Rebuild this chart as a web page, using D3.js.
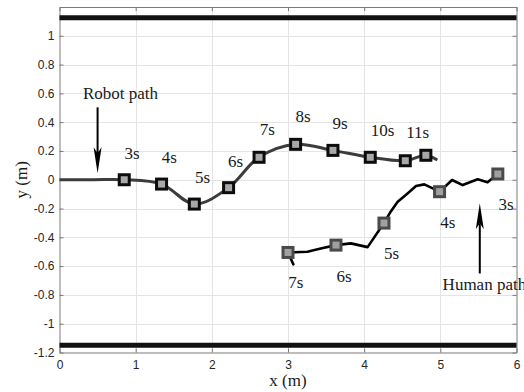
<!DOCTYPE html>
<html>
<head>
<meta charset="utf-8">
<script src="https://cdn.jsdelivr.net/npm/d3@7"></script>
<style>
  html, body { margin: 0; padding: 0; background: #fff; }
  svg { display: block; }
</style>
</head>
<body>
<svg id="chart" width="524" height="392"></svg>
<script>
// ---- data ----
const xTicks = [0, 1, 2, 3, 4, 5, 6];
const yTicks = [-1.2, -1, -0.8, -0.6, -0.4, -0.2, 0, 0.2, 0.4, 0.6, 0.8, 1];

// corridor walls
const wallY = [1.125, -1.15];

// robot trajectory (smooth)
const robotPathX = [0, 0.45, 0.85, 1.34, 1.77, 2.22, 2.62, 3.10, 3.59, 4.08, 4.54, 4.81, 4.96];
const robotPathY = [0, 0, 0, -0.03, -0.169, -0.055, 0.156, 0.246, 0.204, 0.156, 0.132, 0.17, 0.137];
const robotMarkX = [0.85, 1.34, 1.77, 2.22, 2.62, 3.10, 3.59, 4.08, 4.54, 4.81];
const robotMarkY = [0, -0.03, -0.169, -0.055, 0.156, 0.246, 0.204, 0.156, 0.132, 0.17];
const robotLabels = ["3s", "4s", "5s", "6s", "7s", "8s", "9s", "10s", "11s"];
const robotLabelX = [0.953, 1.443, 1.878, 2.312, 2.729, 3.197, 3.684, 4.242, 4.703];
const robotLabelY = [0.188, 0.160, 0.021, 0.132, 0.350, 0.442, 0.396, 0.346, 0.328];

// human trajectory (measured, jagged)
const humanPathX = [3.07, 3.0, 3.255, 3.43, 3.63, 3.825, 4.045, 4.26, 4.35, 4.44, 4.57, 4.68, 4.79, 4.99, 5.154, 5.294, 5.49, 5.62, 5.755];
const humanPathY = [-0.588, -0.505, -0.50, -0.477, -0.454, -0.442, -0.468, -0.301, -0.22, -0.153, -0.095, -0.044, -0.032, -0.083, -0.002, -0.037, 0.003, -0.018, 0.04];
const humanMarkX = [3.0, 3.63, 4.26, 4.99, 5.755];
const humanMarkY = [-0.505, -0.454, -0.301, -0.083, 0.04];
const humanLabels = ["7s", "6s", "5s", "4s", "3s"];
const humanLabelX = [3.101, 3.737, 4.361, 5.097, 5.864];
const humanLabelY = [-0.709, -0.668, -0.512, -0.292, -0.171];

// annotations: text and arrows [x, yFrom, yTo]
const noteText = ["Robot path", "Human path"];
const noteX = [0.80, 5.03];
const noteY = [0.561, -0.767];
const noteAnchor = ["middle", "start"];
const arrowX = [0.5, 5.518];
const arrowFrom = [0.503, -0.651];
const arrowTo = [0.045, -0.164];

// ---- layout ----
const svg = d3.select("#chart");
const pL = 59.5, pR = 516.5, pT = 7, pB = 352.5;
const x = d3.scaleLinear().domain([0, 6]).range([pL, pR]);
const y = d3.scaleLinear().domain([-1.2, 1.2]).range([pB, pT]);

const serif = "'Liberation Serif', 'Times New Roman', serif";
const sans = "'Liberation Sans', Arial, Helvetica, sans-serif";
const fs = 17;

// grid
const grid = svg.append("g").attr("stroke", "#e4e4e4").attr("stroke-width", 1);
grid.selectAll(".gx").data(xTicks.slice(1, -1)).join("line")
  .attr("x1", d => Math.round(x(d)) + 0.5).attr("x2", d => Math.round(x(d)) + 0.5)
  .attr("y1", pT).attr("y2", pB);
grid.selectAll(".gy").data(yTicks.slice(1)).join("line")
  .attr("y1", d => Math.round(y(d)) + 0.5).attr("y2", d => Math.round(y(d)) + 0.5)
  .attr("x1", pL).attr("x2", pR);

// axes
const axB = svg.append("g").attr("transform", `translate(0,${pB})`)
  .call(d3.axisBottom(x).tickValues(xTicks).tickSizeInner(-4).tickSizeOuter(0).tickPadding(8).tickFormat(d3.format("d")));
const axL = svg.append("g").attr("transform", `translate(${pL},0)`)
  .call(d3.axisLeft(y).tickValues(yTicks).tickSizeInner(-4).tickSizeOuter(0).tickPadding(5).tickFormat(d => String(+d.toFixed(1))));
const axT = svg.append("g").attr("transform", `translate(0,${pT})`)
  .call(d3.axisTop(x).tickValues(xTicks).tickSizeInner(-4).tickSizeOuter(0).tickFormat(""));
const axR = svg.append("g").attr("transform", `translate(${pR},0)`)
  .call(d3.axisRight(y).tickValues(yTicks).tickSizeInner(-4).tickSizeOuter(0).tickFormat(""));
[axB, axL, axT, axR].forEach(a => {
  a.select(".domain").attr("stroke", "#7a7a7a");
  a.selectAll(".tick line").attr("stroke", "#7a7a7a");
  a.selectAll(".tick text").attr("fill", "#262626").attr("font-family", sans).attr("font-size", 12);
});

// walls
svg.append("g").selectAll("line").data(wallY).join("line")
  .attr("x1", pL).attr("x2", pR)
  .attr("y1", d => y(d)).attr("y2", d => y(d))
  .attr("stroke", "#111").attr("stroke-width", 5);

// robot path
const robotPts = robotPathX.map((v, i) => [v, robotPathY[i]]);
svg.append("path").datum(robotPts)
  .attr("d", d3.line().x(d => x(d[0])).y(d => y(d[1])).curve(d3.curveCatmullRom.alpha(0.5)))
  .attr("fill", "none").attr("stroke", "#3c3c3c").attr("stroke-width", 3);

// human path
const humanPts = humanPathX.map((v, i) => [v, humanPathY[i]]);
svg.append("path").datum(humanPts)
  .attr("d", d3.line().x(d => x(d[0])).y(d => y(d[1])).curve(d3.curveLinear))
  .attr("fill", "none").attr("stroke", "#000").attr("stroke-width", 2.6)
  .attr("stroke-linejoin", "round").attr("stroke-linecap", "round");

// markers
const rs = 10;
svg.append("g").selectAll("rect").data(robotMarkX.map((v, i) => [v, robotMarkY[i]])).join("rect")
  .attr("x", d => x(d[0]) - rs / 2).attr("y", d => y(d[1]) - rs / 2)
  .attr("width", rs).attr("height", rs)
  .attr("fill", "#a8a8a8").attr("stroke", "#0c0c0c").attr("stroke-width", 3);
const hs = 10;
svg.append("g").selectAll("rect").data(humanMarkX.map((v, i) => [v, humanMarkY[i]])).join("rect")
  .attr("x", d => x(d[0]) - hs / 2).attr("y", d => y(d[1]) - hs / 2)
  .attr("width", hs).attr("height", hs)
  .attr("fill", "#a0a0a0").attr("stroke", "#4a4a4a").attr("stroke-width", 3);

// time labels
const lab = svg.append("g").attr("font-family", serif).attr("font-size", fs).attr("fill", "#1a1a1a")
  .attr("text-anchor", "middle");
lab.selectAll(".r").data(robotLabels).join("text")
  .attr("x", (d, i) => x(robotLabelX[i])).attr("y", (d, i) => y(robotLabelY[i])).attr("dy", "0.35em")
  .text(d => d);
lab.selectAll(".h").data(humanLabels).join("text")
  .attr("x", (d, i) => x(humanLabelX[i])).attr("y", (d, i) => y(humanLabelY[i])).attr("dy", "0.35em")
  .text(d => d);

// annotations
svg.append("g").selectAll("text").data(noteText).join("text")
  .attr("x", (d, i) => x(noteX[i])).attr("y", (d, i) => y(noteY[i]))
  .attr("text-anchor", (d, i) => noteAnchor[i])
  .attr("font-family", serif).attr("font-size", fs).attr("fill", "#1a1a1a")
  .text(d => d);

const arrows = svg.append("g");
arrowX.forEach((ax, i) => {
  const px = x(ax), y0 = y(arrowFrom[i]), y1 = y(arrowTo[i]);
  const dir = y1 > y0 ? 1 : -1;
  const headLen = 26, notch = 20, half = 4;
  arrows.append("line")
    .attr("x1", px).attr("x2", px).attr("y1", y0).attr("y2", y1 - dir * notch)
    .attr("stroke", "#000").attr("stroke-width", 2);
  arrows.append("path")
    .attr("d", `M${px},${y1} L${px - half},${y1 - dir * headLen} L${px},${y1 - dir * notch} L${px + half},${y1 - dir * headLen} Z`)
    .attr("fill", "#000");
});

// axis titles
svg.append("text").attr("x", (pL + pR) / 2).attr("y", 386)
  .attr("text-anchor", "middle").attr("font-family", serif).attr("font-size", fs).attr("fill", "#1a1a1a")
  .text("x (m)");
svg.append("text").attr("transform", `translate(27,${y(0)}) rotate(-90)`)
  .attr("text-anchor", "middle").attr("font-family", serif).attr("font-size", fs).attr("fill", "#1a1a1a")
  .text("y (m)");
</script>
</body>
</html>
